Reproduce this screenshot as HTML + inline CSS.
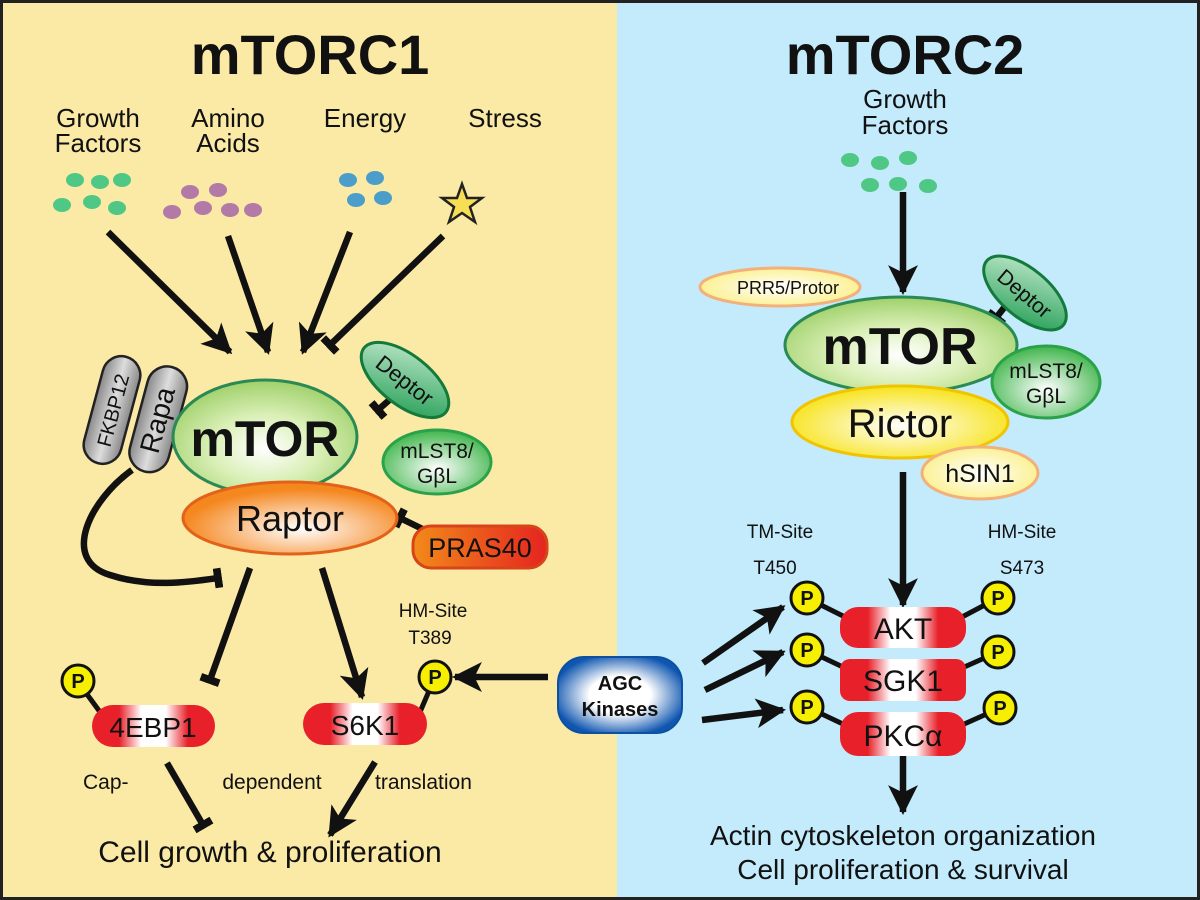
<!DOCTYPE html>
<html><head><meta charset="utf-8"><style>
html,body{margin:0;padding:0;background:#fff}
svg{display:block}
text{font-family:"Liberation Sans",Arial,sans-serif;fill:#111}
</style></head><body>
<svg width="1200" height="900" viewBox="0 0 1200 900" xmlns="http://www.w3.org/2000/svg">
<defs>
<marker id="ar" viewBox="0 0 10 10" refX="9" refY="5" markerWidth="4.6" markerHeight="4.6" orient="auto" markerUnits="strokeWidth"><path d="M0,0 L10,5 L0,10 L2.5,5 z" fill="#111"/></marker>
<marker id="tb" viewBox="0 0 4 10" refX="2" refY="5" markerWidth="1.2" markerHeight="5" orient="auto" markerUnits="strokeWidth"><rect x="0" y="0" width="4" height="10" fill="#111"/></marker>
<radialGradient id="gG" cx="50%" cy="60%" r="60%"><stop offset="0" stop-color="#fff"/><stop offset="0.5" stop-color="#d9efb5"/><stop offset="1" stop-color="#9fd06a"/></radialGradient>
<radialGradient id="gL" cx="50%" cy="60%" r="60%"><stop offset="0" stop-color="#fff"/><stop offset="1" stop-color="#3fb54a"/></radialGradient>
<linearGradient id="gD" x1="0" y1="0" x2="1" y2="1"><stop offset="0" stop-color="#c8ecd2"/><stop offset="1" stop-color="#1a9a4e"/></linearGradient>
<radialGradient id="gO" cx="55%" cy="65%" r="55%"><stop offset="0" stop-color="#fff"/><stop offset="1" stop-color="#f5871f"/></radialGradient>
<linearGradient id="gP" x1="0" y1="0" x2="1" y2="0"><stop offset="0" stop-color="#f28a1a"/><stop offset="1" stop-color="#e52420"/></linearGradient>
<linearGradient id="gR" x1="0" y1="0" x2="1" y2="0"><stop offset="0" stop-color="#e8202a"/><stop offset="0.22" stop-color="#e8202a"/><stop offset="0.4" stop-color="#fff"/><stop offset="0.6" stop-color="#fff"/><stop offset="0.78" stop-color="#e8202a"/><stop offset="1" stop-color="#e8202a"/></linearGradient>
<radialGradient id="gY" cx="50%" cy="55%" r="55%"><stop offset="0" stop-color="#fff"/><stop offset="1" stop-color="#f7e31a"/></radialGradient>
<radialGradient id="gY2" cx="50%" cy="50%" r="55%"><stop offset="0" stop-color="#fff"/><stop offset="1" stop-color="#fbf08a"/></radialGradient>
<radialGradient id="gB" cx="50%" cy="50%" r="55%"><stop offset="0" stop-color="#fff"/><stop offset="0.45" stop-color="#fff"/><stop offset="1" stop-color="#0f56b0"/></radialGradient>
<linearGradient id="gGr" x1="0" y1="0" x2="1" y2="0"><stop offset="0" stop-color="#888"/><stop offset="0.5" stop-color="#ddd"/><stop offset="1" stop-color="#888"/></linearGradient>
</defs>
<rect x="0" y="0" width="617" height="900" fill="#fbe9a6"/>
<rect x="617" y="0" width="583" height="900" fill="#c3ebfb"/>
<rect x="1.5" y="1.5" width="1197" height="897" fill="none" stroke="#222" stroke-width="3"/>

<text x="310" y="74" font-size="56" font-weight="bold" text-anchor="middle">mTORC1</text>
<text x="905" y="74" font-size="56" font-weight="bold" text-anchor="middle">mTORC2</text>

<g font-size="26" text-anchor="middle">
<text x="98" y="127">Growth</text><text x="98" y="152">Factors</text>
<text x="228" y="127">Amino</text><text x="228" y="152">Acids</text>
<text x="365" y="127">Energy</text>
<text x="505" y="127">Stress</text>
<text x="905" y="108">Growth</text><text x="905" y="134">Factors</text>
</g>

<g fill="#4fc886">
<ellipse cx="75" cy="180" rx="9" ry="7"/><ellipse cx="100" cy="182" rx="9" ry="7"/><ellipse cx="122" cy="180" rx="9" ry="7"/>
<ellipse cx="62" cy="205" rx="9" ry="7"/><ellipse cx="92" cy="202" rx="9" ry="7"/><ellipse cx="117" cy="208" rx="9" ry="7"/>
<ellipse cx="850" cy="160" rx="9" ry="7"/><ellipse cx="880" cy="163" rx="9" ry="7"/><ellipse cx="908" cy="158" rx="9" ry="7"/>
<ellipse cx="870" cy="185" rx="9" ry="7"/><ellipse cx="898" cy="184" rx="9" ry="7"/><ellipse cx="928" cy="186" rx="9" ry="7"/>
</g>
<g fill="#b37aa8">
<ellipse cx="190" cy="192" rx="9" ry="7"/><ellipse cx="218" cy="190" rx="9" ry="7"/><ellipse cx="172" cy="212" rx="9" ry="7"/>
<ellipse cx="203" cy="208" rx="9" ry="7"/><ellipse cx="230" cy="210" rx="9" ry="7"/><ellipse cx="253" cy="210" rx="9" ry="7"/>
</g>
<g fill="#4b9ec9">
<ellipse cx="348" cy="180" rx="9" ry="7"/><ellipse cx="375" cy="178" rx="9" ry="7"/><ellipse cx="356" cy="200" rx="9" ry="7"/><ellipse cx="383" cy="198" rx="9" ry="7"/>
</g>
<polygon points="462,184 467,198 482,198 470,207 475,222 462,213 449,222 454,207 442,198 457,198" fill="#f7de55" stroke="#222" stroke-width="2.5"/>

<g stroke="#111" stroke-width="6.5" fill="none">
<line x1="108" y1="232" x2="230" y2="352" marker-end="url(#ar)"/>
<line x1="228" y1="236" x2="268" y2="352" marker-end="url(#ar)"/>
<line x1="350" y1="232" x2="303" y2="352" marker-end="url(#ar)"/>
<line x1="443" y1="236" x2="330" y2="345" marker-end="url(#tb)"/>
<line x1="395" y1="395" x2="378" y2="410" marker-end="url(#tb)"/>
<path d="M132,470 C90,500 60,560 110,575 C150,588 190,582 218,578" marker-end="url(#tb)"/>
<line x1="250" y1="568" x2="210" y2="680" marker-end="url(#tb)"/>
<line x1="322" y1="568" x2="362" y2="697" marker-end="url(#ar)"/>
<line x1="445" y1="540" x2="400" y2="518" marker-end="url(#tb)"/>
<line x1="548" y1="677" x2="455" y2="677" marker-end="url(#ar)"/>
<line x1="167" y1="763" x2="203" y2="825" marker-end="url(#tb)"/>
<line x1="375" y1="762" x2="330" y2="835" marker-end="url(#ar)"/>
<line x1="903" y1="192" x2="903" y2="292" marker-end="url(#ar)"/>
<line x1="1010" y1="300" x2="996" y2="318" marker-end="url(#tb)"/>
<line x1="903" y1="472" x2="903" y2="605" marker-end="url(#ar)"/>
<line x1="703" y1="663" x2="783" y2="607" marker-end="url(#ar)"/>
<line x1="705" y1="690" x2="783" y2="652" marker-end="url(#ar)"/>
<line x1="702" y1="720" x2="783" y2="710" marker-end="url(#ar)"/>
<line x1="903" y1="755" x2="903" y2="812" marker-end="url(#ar)"/>
</g>

<g transform="rotate(15 112 410)"><rect x="93" y="355" width="38" height="110" rx="19" fill="url(#gGr)" stroke="#222" stroke-width="2.5"/><text transform="rotate(-90 112 410)" x="112" y="418" font-size="20" text-anchor="middle">FKBP12</text></g>
<g transform="rotate(15 157 420)"><rect x="138" y="365" width="40" height="108" rx="20" fill="url(#gGr)" stroke="#222" stroke-width="2.5"/><text transform="rotate(-90 157 420)" x="157" y="430" font-size="28" text-anchor="middle">Rapa</text></g>
<ellipse cx="265" cy="437" rx="92" ry="57" fill="url(#gG)" stroke="#2a8a55" stroke-width="3"/>
<text x="265" y="456" font-size="50" font-weight="bold" text-anchor="middle">mTOR</text>
<g transform="rotate(38 405 380)"><ellipse cx="405" cy="380" rx="52" ry="25" fill="url(#gD)" stroke="#137a3c" stroke-width="3"/><text x="405" y="388" font-size="22" text-anchor="middle">Deptor</text></g>
<ellipse cx="437" cy="462" rx="54" ry="32" fill="url(#gL)" stroke="#2aa24a" stroke-width="3"/>
<text x="437" y="458" font-size="21" text-anchor="middle">mLST8/</text><text x="437" y="483" font-size="21" text-anchor="middle">GβL</text>
<ellipse cx="290" cy="518" rx="107" ry="36" fill="url(#gO)" stroke="#e2621a" stroke-width="3"/>
<text x="290" y="531" font-size="36" text-anchor="middle">Raptor</text>
<rect x="413" y="526" width="134" height="42" rx="18" fill="url(#gP)" stroke="#d7441a" stroke-width="3"/>
<text x="480" y="557" font-size="27" text-anchor="middle">PRAS40</text>

<line x1="78" y1="682" x2="100" y2="712" stroke="#111" stroke-width="5"/>
<line x1="435" y1="677" x2="420" y2="712" stroke="#111" stroke-width="5"/>
<rect x="92" y="705" width="123" height="42" rx="21" fill="url(#gR)"/>
<text x="153" y="737" font-size="28" text-anchor="middle">4EBP1</text>
<rect x="303" y="703" width="124" height="42" rx="21" fill="url(#gR)"/>
<text x="365" y="735" font-size="28" text-anchor="middle">S6K1</text>
<g font-weight="bold" font-size="20" text-anchor="middle">
<circle cx="78" cy="681" r="16" fill="#f6f000" stroke="#111" stroke-width="3"/><text x="78" y="688">P</text>
<circle cx="435" cy="677" r="16" fill="#f6f000" stroke="#111" stroke-width="3"/><text x="435" y="684">P</text>
</g>
<text x="433" y="617" font-size="19" text-anchor="middle">HM-Site</text>
<text x="430" y="644" font-size="19" text-anchor="middle">T389</text>
<g font-size="21"><text x="83" y="789">Cap-</text><text x="272" y="789" text-anchor="middle">dependent</text><text x="375" y="789">translation</text></g>
<text x="270" y="862" font-size="30" text-anchor="middle">Cell growth &amp; proliferation</text>

<rect x="558" y="657" width="124" height="76" rx="26" fill="url(#gB)" stroke="#0d4fa0" stroke-width="2"/>
<text x="620" y="690" font-size="20" font-weight="bold" text-anchor="middle">AGC</text>
<text x="620" y="716" font-size="20" font-weight="bold" text-anchor="middle">Kinases</text>

<ellipse cx="780" cy="287" rx="80" ry="19" fill="url(#gY2)" stroke="#f4b07a" stroke-width="3"/>
<text x="788" y="294" font-size="18" text-anchor="middle">PRR5/Protor</text>
<g transform="rotate(40 1025 293)"><ellipse cx="1025" cy="293" rx="50" ry="24" fill="url(#gD)" stroke="#137a3c" stroke-width="3"/><text x="1025" y="301" font-size="21" text-anchor="middle">Deptor</text></g>
<ellipse cx="901" cy="345" rx="116" ry="48" fill="url(#gG)" stroke="#2a8a55" stroke-width="3"/>
<text x="900" y="364" font-size="52" font-weight="bold" text-anchor="middle">mTOR</text>
<ellipse cx="1046" cy="382" rx="54" ry="36" fill="url(#gL)" stroke="#2aa24a" stroke-width="3"/>
<text x="1046" y="378" font-size="21" text-anchor="middle">mLST8/</text><text x="1046" y="403" font-size="21" text-anchor="middle">GβL</text>
<ellipse cx="900" cy="422" rx="108" ry="36" fill="url(#gY)" stroke="#f1c400" stroke-width="3"/>
<text x="900" y="437" font-size="40" text-anchor="middle">Rictor</text>
<ellipse cx="980" cy="473" rx="58" ry="26" fill="url(#gY2)" stroke="#f4b07a" stroke-width="3"/>
<text x="980" y="482" font-size="25" text-anchor="middle">hSIN1</text>

<g font-size="19" text-anchor="middle">
<text x="780" y="538">TM-Site</text><text x="775" y="574">T450</text>
<text x="1022" y="538">HM-Site</text><text x="1022" y="574">S473</text>
</g>

<g stroke="#111" stroke-width="5">
<line x1="807" y1="598" x2="845" y2="617"/><line x1="998" y1="598" x2="962" y2="617"/>
<line x1="807" y1="650" x2="845" y2="668"/><line x1="998" y1="652" x2="962" y2="668"/>
<line x1="807" y1="707" x2="845" y2="725"/><line x1="1000" y1="708" x2="962" y2="725"/>
</g>
<rect x="840" y="607" width="126" height="41" rx="18" fill="url(#gR)"/>
<text x="903" y="639" font-size="30" text-anchor="middle">AKT</text>
<rect x="840" y="659" width="126" height="42" rx="10" fill="url(#gR)"/>
<text x="903" y="691" font-size="30" text-anchor="middle">SGK1</text>
<rect x="840" y="712" width="126" height="44" rx="18" fill="url(#gR)"/>
<text x="903" y="746" font-size="30" text-anchor="middle">PKCα</text>
<g font-weight="bold" font-size="20" text-anchor="middle">
<circle cx="807" cy="598" r="16" fill="#f6f000" stroke="#111" stroke-width="3"/><text x="807" y="605">P</text>
<circle cx="998" cy="598" r="16" fill="#f6f000" stroke="#111" stroke-width="3"/><text x="998" y="605">P</text>
<circle cx="807" cy="650" r="16" fill="#f6f000" stroke="#111" stroke-width="3"/><text x="807" y="657">P</text>
<circle cx="998" cy="652" r="16" fill="#f6f000" stroke="#111" stroke-width="3"/><text x="998" y="659">P</text>
<circle cx="807" cy="707" r="16" fill="#f6f000" stroke="#111" stroke-width="3"/><text x="807" y="714">P</text>
<circle cx="1000" cy="708" r="16" fill="#f6f000" stroke="#111" stroke-width="3"/><text x="1000" y="715">P</text>
</g>
<text x="903" y="845" font-size="28" text-anchor="middle">Actin cytoskeleton organization</text>
<text x="903" y="879" font-size="28" text-anchor="middle">Cell proliferation &amp; survival</text>
</svg>
</body></html>
